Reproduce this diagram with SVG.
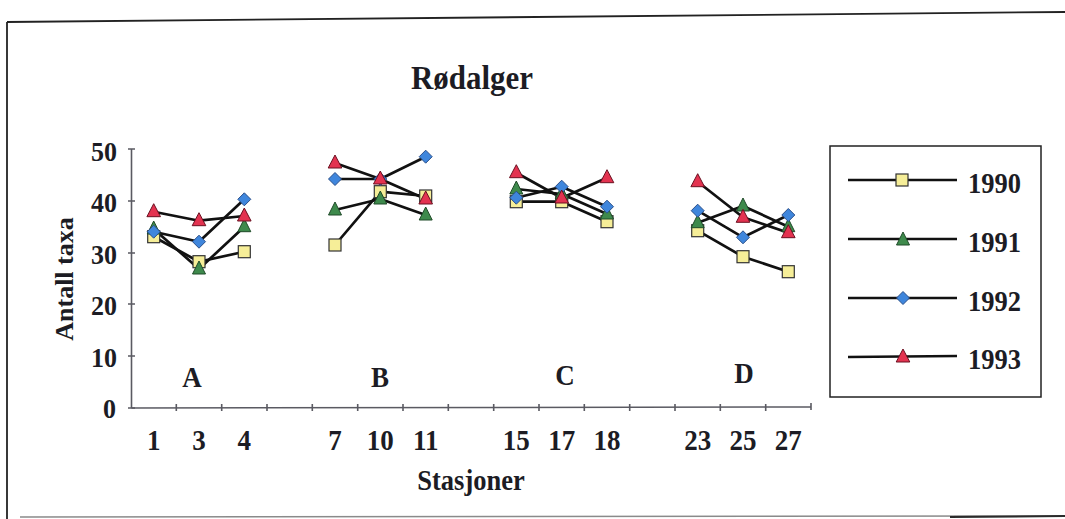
<svg xmlns="http://www.w3.org/2000/svg" width="1065" height="519" viewBox="0 0 1065 519">
<style>
.t{font-family:"Liberation Serif","Times New Roman",serif;font-weight:bold;fill:#1c1c24}
.ax{stroke:#5a5a62;stroke-width:1.6;fill:none}
.ser{stroke:#111;stroke-width:2.7;fill:none;stroke-linejoin:round}
.frame{stroke:#222;stroke-width:1.8;fill:none}
</style>
<defs>
<g id="sq"><rect x="-6" y="-6" width="12" height="12" fill="#f6ee98" stroke="#333" stroke-width="1.2"/></g>
<g id="gt"><polygon points="0,-8 6.5,5 -6.5,5" fill="#3e8a4c" stroke="#1f4a28" stroke-width="1"/></g>
<g id="bd"><polygon points="0,-6.5 6.5,0 0,6.5 -6.5,0" fill="#3f86dc" stroke="#2a4f8a" stroke-width="1"/></g>
<g id="rt"><polygon points="0,-8 6.8,5 -6.8,5" fill="#e33350" stroke="#6a1020" stroke-width="1"/></g>
</defs>
<rect width="1065" height="519" fill="#fff"/>
<g id="frame">
<line class="frame" x1="7" y1="22" x2="1065" y2="12"/>
<line class="frame" x1="7" y1="22" x2="7" y2="519"/>
<line x1="20" y1="517" x2="1065" y2="516" stroke="#8a8a8a" stroke-width="1.5"/>
<line x1="950" y1="517" x2="1065" y2="516" stroke="#2a2a2a" stroke-width="2"/>
</g>
<g id="title"><text class="t" font-size="31" text-anchor="middle" transform="translate(472,89) scale(1,1.1)">Rødalger</text></g>
<g id="axes">
<line class="ax" x1="131.5" y1="149" x2="131.5" y2="408"/>
<line class="ax" x1="131.5" y1="408" x2="811" y2="407"/>
<g class="ax">
<path d="M128 149h7M128 201h7M128 253h7M128 304h7M128 356h7M128 408h7"/>
<path d="M176.3 404v7M221.7 404v7M267 404v7M312.3 404v7M357.7 404v7M403 404v7M448.3 404v7M493.7 404v7M539 404v7M584.3 404v7M629.7 404v7M675 404v7M720.3 404v7M765.7 404v7M811 403v7"/>
</g>
<g class="t" font-size="26" text-anchor="end">
<text transform="translate(117,161) scale(1,1.08)">50</text>
<text transform="translate(117,212) scale(1,1.08)">40</text>
<text transform="translate(117,264) scale(1,1.08)">30</text>
<text transform="translate(117,315) scale(1,1.08)">20</text>
<text transform="translate(117,367) scale(1,1.08)">10</text>
<text transform="translate(116,418) scale(1,1.08)">0</text>
</g>
<g class="t" font-size="27" text-anchor="middle">
<text transform="translate(153.7,450) scale(1,1.1)">1</text>
<text transform="translate(199,450) scale(1,1.1)">3</text>
<text transform="translate(244.3,450) scale(1,1.1)">4</text>
<text transform="translate(335,450) scale(1,1.1)">7</text>
<text transform="translate(380.3,450) scale(1,1.1)">10</text>
<text transform="translate(425.7,450) scale(1,1.1)">11</text>
<text transform="translate(516.3,450) scale(1,1.1)">15</text>
<text transform="translate(561.7,450) scale(1,1.1)">17</text>
<text transform="translate(607,450) scale(1,1.1)">18</text>
<text transform="translate(697.7,450) scale(1,1.1)">23</text>
<text transform="translate(743,450) scale(1,1.1)">25</text>
<text transform="translate(788.3,450) scale(1,1.1)">27</text>
</g>
<text class="t" font-size="26.5" text-anchor="middle" transform="translate(471,490) scale(1,1.08)">Stasjoner</text>
<text class="t" font-size="26" text-anchor="middle" transform="translate(73,279) rotate(-90)">Antall taxa</text>
<g class="t" font-size="27" text-anchor="middle">
<text transform="translate(192,387) scale(1,1.08)">A</text>
<text transform="translate(380,386.5) scale(1,1.08)">B</text>
<text transform="translate(565,385) scale(1,1.08)">C</text>
<text transform="translate(744,383) scale(1,1.08)">D</text>
</g>
</g>
<g id="connectors">
<g id="s1990-lines" class="ser">
<polyline points="153.7,236.7 199,261.7 244.3,251.7"/>
<polyline points="335,245 380.3,191.7 425.7,196"/>
<polyline points="516.3,201.7 561.7,201.7 607,221.7"/>
<polyline points="697.7,230.7 743,256.7 788.3,271.7"/>
</g>
<g id="s1991-lines" class="ser">
<polyline points="153.7,229 199,269 244.3,226.7"/>
<polyline points="335,210 380.3,199 425.7,215"/>
<polyline points="516.3,189 561.7,194 607,214"/>
<polyline points="697.7,222.7 743,206 788.3,226.7"/>
</g>
<g id="s1992-lines" class="ser">
<polyline points="153.7,231.7 199,241.7 244.3,199.3"/>
<polyline points="335,179 380.3,179 425.7,156.7"/>
<polyline points="516.3,197.7 561.7,186.7 607,206.7"/>
<polyline points="697.7,210.7 743,237.3 788.3,215"/>
</g>
<g id="s1993-lines" class="ser">
<polyline points="153.7,211.7 199,220.7 244.3,216"/>
<polyline points="335,163 380.3,179 425.7,199"/>
<polyline points="516.3,172.7 561.7,198 607,177.7"/>
<polyline points="697.7,181.7 743,217.3 788.3,232.7"/>
</g>
</g>
<g id="s1990">
<use href="#sq" x="153.7" y="236.7"/><use href="#sq" x="199" y="261.7"/><use href="#sq" x="244.3" y="251.7"/>
<use href="#sq" x="335" y="245"/><use href="#sq" x="380.3" y="191.7"/><use href="#sq" x="425.7" y="196"/>
<use href="#sq" x="516.3" y="201.7"/><use href="#sq" x="561.7" y="201.7"/><use href="#sq" x="607" y="221.7"/>
<use href="#sq" x="697.7" y="230.7"/><use href="#sq" x="743" y="256.7"/><use href="#sq" x="788.3" y="271.7"/>
</g>
<g id="s1991">
<use href="#gt" x="153.7" y="229"/><use href="#gt" x="199" y="269"/><use href="#gt" x="244.3" y="226.7"/>
<use href="#gt" x="335" y="210"/><use href="#gt" x="380.3" y="199"/><use href="#gt" x="425.7" y="215"/>
<use href="#gt" x="516.3" y="189"/><use href="#gt" x="561.7" y="194"/><use href="#gt" x="607" y="214"/>
<use href="#gt" x="697.7" y="222.7"/><use href="#gt" x="743" y="206"/><use href="#gt" x="788.3" y="226.7"/>
</g>
<g id="s1992">
<use href="#bd" x="153.7" y="231.7"/><use href="#bd" x="199" y="241.7"/><use href="#bd" x="244.3" y="199.3"/>
<use href="#bd" x="335" y="179"/><use href="#bd" x="380.3" y="179"/><use href="#bd" x="425.7" y="156.7"/>
<use href="#bd" x="516.3" y="197.7"/><use href="#bd" x="561.7" y="186.7"/><use href="#bd" x="607" y="206.7"/>
<use href="#bd" x="697.7" y="210.7"/><use href="#bd" x="743" y="237.3"/><use href="#bd" x="788.3" y="215"/>
</g>
<g id="s1993">
<use href="#rt" x="153.7" y="211.7"/><use href="#rt" x="199" y="220.7"/><use href="#rt" x="244.3" y="216"/>
<use href="#rt" x="335" y="163"/><use href="#rt" x="380.3" y="179"/><use href="#rt" x="425.7" y="199"/>
<use href="#rt" x="516.3" y="172.7"/><use href="#rt" x="561.7" y="198"/><use href="#rt" x="607" y="177.7"/>
<use href="#rt" x="697.7" y="181.7"/><use href="#rt" x="743" y="217.3"/><use href="#rt" x="788.3" y="232.7"/>
</g>
<g id="legend">
<rect x="830" y="146" width="211" height="251" fill="none" stroke="#222" stroke-width="1.5"/>
<g class="ser">
<line x1="848" y1="180" x2="957" y2="180"/>
<line x1="848" y1="239" x2="957" y2="239"/>
<line x1="848" y1="298" x2="957" y2="298"/>
<line x1="848" y1="357" x2="957" y2="356"/>
</g>
<use href="#sq" x="902" y="180"/>
<use href="#gt" x="903" y="240"/>
<use href="#bd" x="903" y="298"/>
<use href="#rt" x="903" y="357"/>
<g class="t" font-size="26.5">
<text transform="translate(968,193) scale(1,1.1)">1990</text>
<text transform="translate(968,252) scale(1,1.1)">1991</text>
<text transform="translate(968,311) scale(1,1.1)">1992</text>
<text transform="translate(968,369) scale(1,1.1)">1993</text>
</g>
</g>
</svg>
